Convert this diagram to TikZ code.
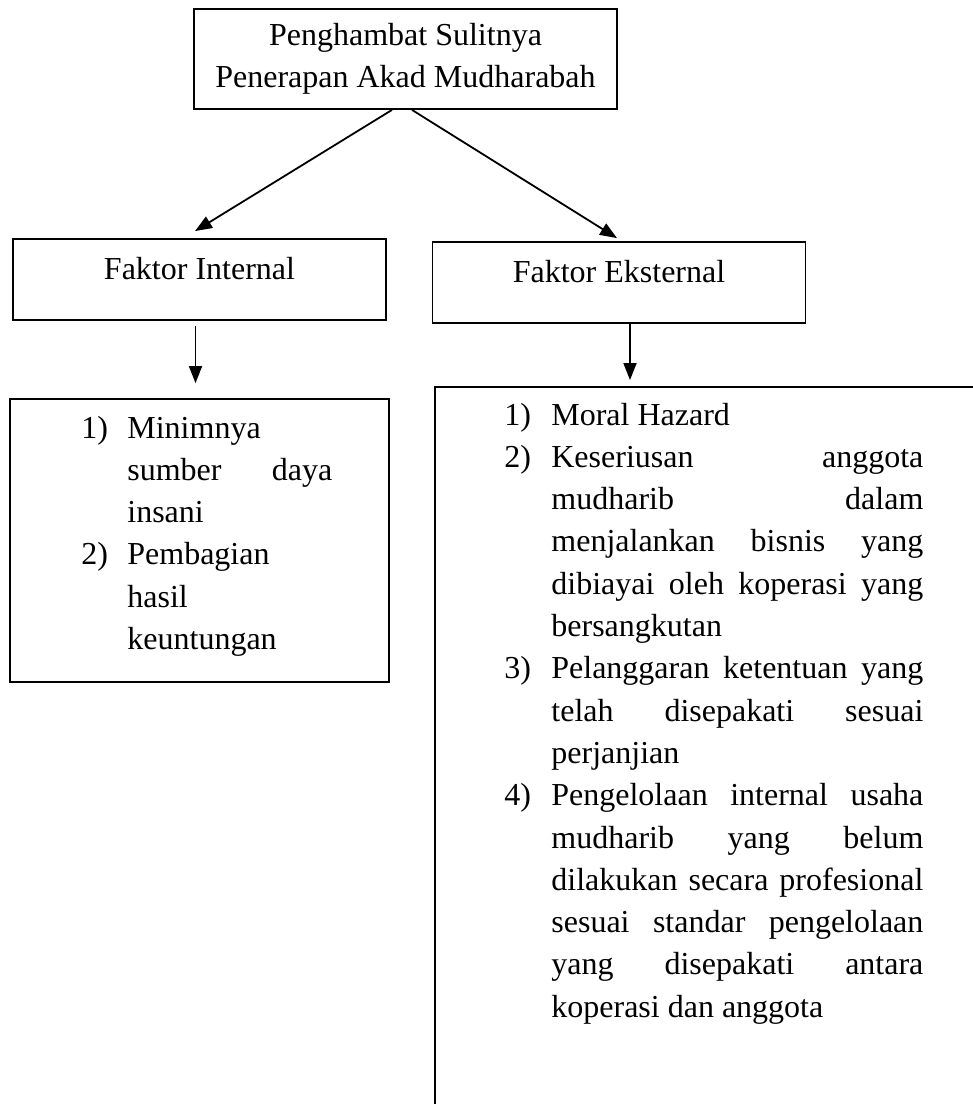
\documentclass[tikz,border=0pt]{standalone}
\usepackage{fontspec}
\setmainfont{Liberation Serif}
\usepackage{array}
\usetikzlibrary{arrows.meta}

\begin{document}
\begin{tikzpicture}[
  x=0.5pt, y=-0.5pt,
  font=\fontsize{16}{21.15}\selectfont,
  box/.style={draw, line width=0.9pt, inner sep=0pt},
  factor/.style={box, minimum width=186.5pt, minimum height=40.5pt,
                 text height=11pt, text depth=11pt},
  list/.style={anchor=base west, inner sep=0pt},
  arr/.style={-{Triangle[length=8.5pt,width=6.5pt]}, line width=0.9pt}
]
\useasboundingbox (0,0) rectangle (973,1104);
\clip (0,0) rectangle (973,1104);
\node[box, align=center, minimum width=211.5pt, minimum height=50pt] (root) at (405.5,59)
  {Penghambat Sulitnya\\Penerapan Akad Mudharabah};
\node[factor] (fint) at (199.5,279.5) {Faktor Internal};
\node[factor] (fext) at (619,282.5) {Faktor Eksternal};
\node[box, minimum width=189.75pt, minimum height=141.5pt] (inbox) at (199.5,540.5) {};
\node[box, anchor=north west, minimum width=280pt, minimum height=370pt] (exbox) at (434,386) {};
\node[list] (intext) at (81,438) {%
  \begin{tabular}[t]{@{}p{23pt}@{}p{102.5pt}@{}}
  1) & Minimnya\\
     & sumber\hfill daya\\
     & insani\\
  2) & Pembagian\\
     & hasil\\
     & keuntungan
  \end{tabular}};
\node[list] (extext) at (504,425) {%
  \begin{tabular}[t]{@{}p{23.5pt}@{}p{186pt}@{}}
  1) & Moral Hazard\\
  2) & Keseriusan\hfill anggota\\
     & mudharib\hfill dalam\\
     & menjalankan\hfill bisnis\hfill yang\\
     & dibiayai\hfill oleh\hfill koperasi\hfill yang\\
     & bersangkutan\\
  3) & Pelanggaran\hfill ketentuan\hfill yang\\
     & telah\hfill disepakati\hfill sesuai\\
     & perjanjian\\
  4) & Pengelolaan\hfill internal\hfill usaha\\
     & mudharib\hfill yang\hfill belum\\
     & dilakukan\hfill secara\hfill profesional\\
     & sesuai\hfill standar\hfill pengelolaan\\
     & yang\hfill disepakati\hfill antara\\
     & koperasi dan anggota
  \end{tabular}};
\draw[arr] ([xshift=-6.75pt]root.south) -- ([xshift=-2.25pt,yshift=3.5pt]fint.north);
\draw[arr] ([xshift=3.25pt]root.south) -- ([xshift=-1pt,yshift=1.5pt]fext.north);
\draw[arr] ([xshift=-2pt,yshift=-2.5pt]fint.south) -- ([xshift=-2pt,yshift=7.5pt]inbox.north);
\draw[arr] ([xshift=5.5pt]fext.south) -- ([xshift=98pt,yshift=3pt]exbox.north west);
\end{tikzpicture}
\end{document}
